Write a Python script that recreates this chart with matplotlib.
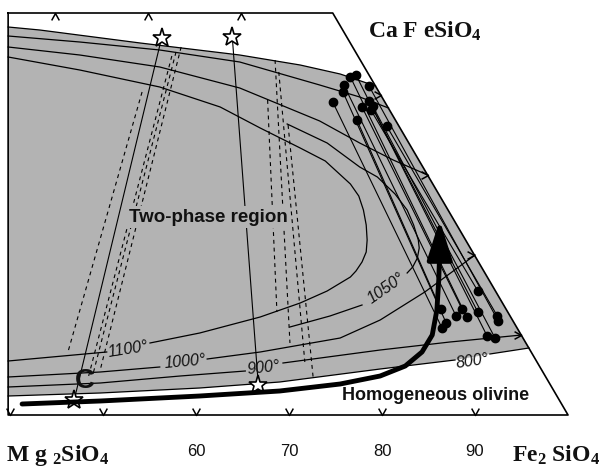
import numpy as np
import matplotlib.pyplot as plt
from matplotlib.path import Path

plt.rcParams['mathtext.fontset'] = 'custom'
plt.rcParams['mathtext.rm'] = 'Liberation Serif:bold'
plt.rcParams['mathtext.it'] = 'Liberation Serif:bold'
plt.rcParams['mathtext.bf'] = 'Liberation Serif:bold'

GRAY = '#b3b3b3'

# x = mol% Fe2SiO4 along the base, y = height towards CaFeSiO4 (arbitrary units)
frame_x = [39.8, 74.7, 100.0, 39.8, 39.8]
frame_y = [40.2, 40.2, 0.0, 0.0, 40.2]

bottom_ticks = [40, 50, 60, 70, 80, 90]
tick_labels = ['60', '70', '80', '90']
tick_label_x = [60, 70, 80, 90]
top_ticks = [44.8, 54.8, 64.8]
right_ticks_y = [32, 24, 16, 8]

# isotherms (solvus), nan = gap for the label
up800_x = [39.8, 43.2, 54.0, 64.7, 71.2, 75.5, 79.3]
up800_y = [38.8, 38.5, 37.2, 36.0, 35.0, 34.1, 32.9]
low800_x = [39.8, 49.7, 60.4, 69.0, 79.8, 87.85, np.nan, 91.6, 95.8]
low800_y = [1.9, 2.2, 2.7, 3.3, 4.6, 5.5, np.nan, 6.1, 6.7]

up900_x = [39.8, 47.5, 56.1, 64.7, 73.3, 77.6, 80.7]
up900_y = [37.9, 37.3, 36.5, 35.3, 33.0, 31.8, 30.7]
low900_x = [39.8, 49.7, 58.3, 65.3, np.nan, 69.35, 79.8, 87.3, 95.0]
low900_y = [2.8, 3.2, 3.9, 4.4, np.nan, 5.2, 6.5, 7.3, 8.0]

up1000_x = [39.8, 47.5, 56.1, 64.7, 73.3, 77.6, 81.2, 84.9]
up1000_y = [36.8, 36.0, 34.8, 32.7, 29.4, 27.2, 25.5, 24.0]
low1000_x = [39.8, 49.7, 56.1, np.nan, 61.2, 66.9, 75.5, 79.8, 84.6, 90.0]
low1000_y = [3.8, 4.3, 4.8, np.nan, 5.6, 6.3, 7.7, 9.5, 12.3, 16.0]

loop1050_x = [69.8, 74.1, 77.6, 79.5, 81.4, 82.7, 83.4, 83.9, 84.0, 83.8, 83.3, 82.7,
              np.nan, 77.85, 74.4, 70.1]
loop1050_y = [29.1, 27.2, 24.8, 23.8, 22.1, 20.5, 19.0, 17.5, 16.7, 15.7, 14.8, 14.2,
              np.nan, 11.0, 9.9, 8.8]

loop1100_x = [39.8, 47.5, 56.1, 62.6, 66.9, 71.2, 73.9, 76.6, 77.5, 78.0, 78.3, 78.4,
              78.3, 77.85, 77.2, 76.6, 74.1, 71.2, 66.9, 60.4, 55.05, np.nan, 50.4, 39.8]
loop1100_y = [35.8, 34.5, 32.8, 30.8, 28.7, 26.7, 25.4, 23.1, 21.9, 20.5, 19.0, 17.5,
              16.3, 15.3, 14.4, 13.8, 12.4, 11.2, 9.8, 8.2, 7.2, np.nan, 6.3, 5.4]

iso_labels = ['1100°', '1050°', '1000°', '900°', '800°']
iso_label_x = [52.7, 80.4, 58.8, 67.2, 89.7]
iso_label_y = [6.6, 12.7, 5.3, 4.7, 5.4]
iso_label_rot = [9, 35, 5, 6, 8]

# stars and their tie lines
star_x = [56.3, 63.9, 46.9, 66.7]
star_y = [37.7, 37.8, 1.5, 3.0]
star_lines = [((56.3, 37.7), (46.9, 1.5)), ((63.9, 37.8), (66.7, 3.0))]

# dashed tie lines
dashed = [
    ((54.2, 32.3), (46.2, 6.2)),
    ((57.4, 35.9), (48.4, 3.7)),
    ((57.85, 36.3), (48.9, 4.0)),
    ((58.4, 36.8), (49.7, 4.5)),
    ((67.7, 31.5), (68.7, 10.3)),
    ((68.5, 35.5), (70.1, 7.2)),
    ((68.9, 34.3), (71.7, 5.3)),
    ((69.9, 29.0), (72.6, 3.7)),
]

# measured pairs (black dots)
dot_up_x = [74.7, 75.8, 77.3, 75.9, 77.85, 76.6, 77.2, 78.6, 79.0, 78.8, 78.6, 80.5]
dot_up_y = [31.3, 32.3, 29.5, 33.0, 30.8, 33.8, 34.0, 31.4, 30.9, 30.5, 32.9, 28.9]
dot_lo_x = [86.45, 86.9, 86.3, 87.96, 88.6, 89.1, 91.3, 90.3, 92.15, 90.3, 92.5, 92.4]
dot_lo_y = [8.7, 9.2, 10.6, 9.9, 10.6, 9.8, 7.9, 10.3, 7.7, 12.4, 9.4, 9.9]

# cooling path arrow
path_x = [41.3, 49.7, 60.4, 69.0, 75.5, 79.8, 82.5, 84.3, 85.4, 85.9, 86.1, 86.2]
path_y = [1.1, 1.4, 1.9, 2.4, 3.1, 3.9, 4.9, 6.3, 8.0, 10.5, 13.5, 16.3]
arrow_tip = (86.2, 19.5)

fig = plt.figure(figsize=(6.11, 4.71), dpi=100)
ax = fig.add_axes([0, 0, 1, 1])
ax.set_xlim(38.925, 104.62)
ax.set_ylim(-5.6, 41.5)
ax.axis('off')

# gray two-phase field bounded by the 800 isotherm
ux = np.array(up800_x); uy = np.array(up800_y)
lx = np.array(low800_x); ly = np.array(low800_y)
ok = ~np.isnan(lx)
ax.fill(np.concatenate([ux, lx[ok][::-1]]), np.concatenate([uy, ly[ok][::-1]]),
        color=GRAY, lw=0, zorder=0)

lw_iso = 0.9
for xs, ys in [(up800_x, up800_y), (low800_x, low800_y), (up900_x, up900_y),
               (low900_x, low900_y), (up1000_x, up1000_y), (low1000_x, low1000_y),
               (loop1050_x, loop1050_y), (loop1100_x, loop1100_y)]:
    ax.plot(xs, ys, color='k', lw=lw_iso, zorder=2, solid_joinstyle='round')

for t, x, y, r in zip(iso_labels, iso_label_x, iso_label_y, iso_label_rot):
    ax.text(x, y, t, rotation=r, ha='center', va='center', fontsize=11.5,
            style='italic', family='Liberation Sans', color='#111111', zorder=5)

for (a, b) in dashed:
    ax.plot([a[0], b[0]], [a[1], b[1]], color='k', lw=0.8, ls=(0, (3.5, 3.5)), zorder=2)

for (a, b) in star_lines:
    ax.plot([a[0], b[0]], [a[1], b[1]], color='k', lw=0.8, zorder=2)

for i in range(len(dot_up_x)):
    ax.plot([dot_up_x[i], dot_lo_x[i]], [dot_up_y[i], dot_lo_y[i]], color='k', lw=0.8, zorder=2)
ax.plot(dot_up_x, dot_up_y, 'o', color='k', ms=6, zorder=3)
ax.plot(dot_lo_x, dot_lo_y, 'o', color='k', ms=6, zorder=3)

ax.plot(star_x, star_y, '*', ms=14, mfc='white', mec='k', mew=1.2, zorder=4)

ax.plot(path_x, path_y, color='k', lw=3.5, solid_capstyle='round',
        solid_joinstyle='round', zorder=4)
ax.annotate('', xy=arrow_tip, xytext=(path_x[-1], path_y[-1] - 0.5),
            arrowprops=dict(arrowstyle='-|>,head_length=1.2,head_width=0.38',
                            mutation_scale=20, lw=3.5, color='k',
                            shrinkA=0, shrinkB=0), zorder=4)

# frame and chevron ticks
ax.plot(frame_x, frame_y, color='k', lw=1.2, zorder=6)
v_mark = Path([(-0.55, 1), (0, 0), (0.55, 1)], [Path.MOVETO, Path.LINETO, Path.LINETO])
a_mark = Path([(-0.55, -1), (0, 0), (0.55, -1)], [Path.MOVETO, Path.LINETO, Path.LINETO])
r_mark = Path([(-1, 0.55), (0, 0), (-1, -0.55)], [Path.MOVETO, Path.LINETO, Path.LINETO])
ax.plot(bottom_ticks, [0] * len(bottom_ticks), ls='none', marker=v_mark, ms=10,
        mfc='none', mec='k', mew=1.1, zorder=6)
ax.plot(top_ticks, [40.2] * len(top_ticks), ls='none', marker=a_mark, ms=10,
        mfc='none', mec='k', mew=1.1, zorder=6)
right_x = np.interp(right_ticks_y, [0.0, 40.2], [100.0, 74.7])
ax.plot(right_x, right_ticks_y, ls='none', marker=r_mark, ms=10,
        mfc='none', mec='k', mew=1.1, zorder=6)

for x, t in zip(tick_label_x, tick_labels):
    ax.text(x, -3.7, t, ha='center', va='center', fontsize=12,
            family='Liberation Sans', color='#111111')

ax.text(39.6, -4.0, 'M g $_2$SiO$_4$', ha='left', va='center', fontsize=17,
        family='Liberation Serif', weight='bold', color='#111111')
ax.text(94.0, -4.0, 'Fe$_2$ SiO$_4$', ha='left', va='center', fontsize=17,
        family='Liberation Serif', weight='bold', color='#111111')
ax.text(78.5, 38.4, 'Ca F eSiO$_4$', ha='left', va='center', fontsize=17,
        family='Liberation Serif', weight='bold', color='#111111')

ax.text(61.3, 19.8, 'Two-phase region', ha='center', va='center', fontsize=13.5,
        family='Liberation Sans', weight='bold', color='#111111', zorder=5,
        bbox=dict(boxstyle='square,pad=0.15', fc=GRAY, ec='none'))
ax.text(85.8, 1.9, 'Homogeneous olivine', ha='center', va='center', fontsize=13,
        family='Liberation Sans', weight='bold', color='#111111', zorder=5)
ax.text(48.0, 3.4, 'C', ha='center', va='center', fontsize=20,
        family='Liberation Sans', weight='bold', color='#111111', zorder=5)

fig.savefig('out.png', dpi=100)
